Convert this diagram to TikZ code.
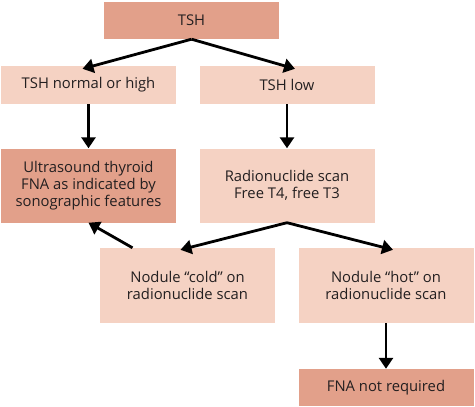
\documentclass[tikz,border=0pt]{standalone}
\usepackage{fontspec}
\setmainfont{Open Sans}
\usetikzlibrary{arrows.meta,calc}
\definecolor{DarkBoxClr}{RGB}{226,160,138}
\definecolor{LightBoxClr}{RGB}{245,210,195}
\definecolor{TextClr}{RGB}{35,31,32}

\begin{document}
\begin{tikzpicture}[x=1pt,y=-1pt,
  box/.style={fill=LightBoxClr,draw=none,minimum width=175pt,
    align=center,text=TextClr,font=\fontsize{14.8}{17.2}\selectfont,inner sep=0pt},
  darkbox/.style={box,fill=DarkBoxClr},
  arr/.style={line width=2.8pt,-{Triangle[width=14pt,length=11pt]}}]
\useasboundingbox (0,0) rectangle (475,407);

% boxes
\node[darkbox,minimum height=37pt] (tsh) at (191.5,20.5) {TSH};
\node[box,minimum height=38pt] (normal) at (88.5,85) {TSH normal or high};
\node[box,minimum height=38pt] (low) at (287,85) {TSH low};
\node[darkbox,minimum height=74pt] (ultra) at (88.5,185.5) {Ultrasound thyroid\\FNA as indicated by\\sonographic features};
\node[box,minimum height=74pt] (radio) at (287,185.5) {Radionuclide scan\\Free T4, free T3};
\node[box,minimum height=75pt] (cold) at (187.5,285.5) {Nodule “cold” on\\radionuclide scan};
\node[box,minimum height=75pt] (hot) at (386,285.5) {Nodule “hot” on\\radionuclide scan};
\node[darkbox,minimum height=37pt] (fna) at (386,387.5) {FNA not required};

% arrows
\draw[arr] (tsh.south) -- ($(normal.north)+(-6,3)$);
\draw[arr] (tsh.south) -- ($(low.north)+(8,3)$);
\draw[arr] (normal.south) -- (ultra.north);
\draw[arr] (low.south) -- (radio.north);
\draw[arr] (radio.south) -- ($(cold.north)+(-7,2)$);
\draw[arr] (radio.south) -- ($(hot.north)+(7,2)$);
\draw[arr] ($(cold.north)+(-55,0)$) -- (ultra.south);
\draw[arr] (hot.south) -- (fna.north);
\end{tikzpicture}
\end{document}
